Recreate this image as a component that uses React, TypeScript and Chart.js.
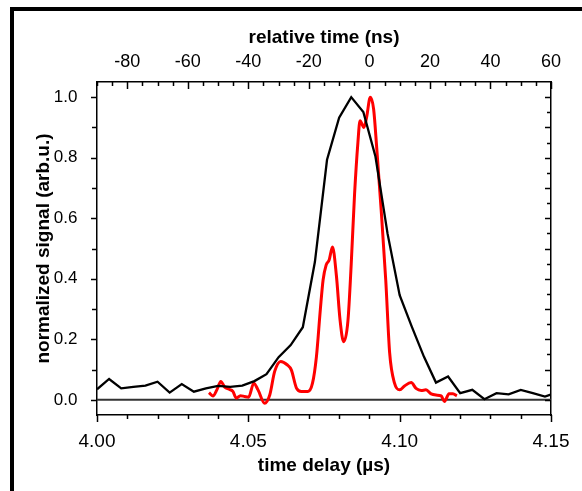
import React, { useEffect, useRef } from "react";
import { Chart, registerables } from "chart.js";

Chart.register(...registerables);

// ---- data ----
const blackTime = [
  4.0, 4.004, 4.008, 4.012, 4.016, 4.02, 4.024, 4.028, 4.032, 4.036,
  4.04, 4.044, 4.048, 4.052, 4.056, 4.06, 4.064, 4.068, 4.072, 4.076,
  4.08, 4.084, 4.088, 4.092, 4.096, 4.1, 4.104, 4.108, 4.112, 4.116,
  4.12, 4.124, 4.128, 4.132, 4.136, 4.14, 4.144, 4.148, 4.152,
];
const blackSignal = [
  0.035, 0.069, 0.038, 0.043, 0.047, 0.06, 0.024, 0.052, 0.027, 0.038,
  0.046, 0.043, 0.047, 0.062, 0.085, 0.141, 0.181, 0.24, 0.456, 0.793,
  0.932, 1.0, 0.951, 0.804, 0.549, 0.346, 0.242, 0.143, 0.057, 0.077,
  0.022, 0.033, 0.002, 0.022, 0.018, 0.033, 0.022, 0.011, 0.025,
];

const redTime = [
  4.037, 4.0383, 4.0396, 4.0409, 4.0422, 4.0436, 4.0449, 4.046, 4.0474, 4.0488,
  4.0501, 4.0518, 4.0532, 4.0554, 4.0571, 4.0587, 4.0607, 4.0628, 4.0642, 4.0659,
  4.0675, 4.0697, 4.0712, 4.0725, 4.0738, 4.0747, 4.0757, 4.0767, 4.0778, 4.0791,
  4.0803, 4.0815, 4.0829, 4.084, 4.0851, 4.0862, 4.0869, 4.0882, 4.0891, 4.0903,
  4.0914, 4.0924, 4.0939, 4.0954, 4.0967, 4.0983, 4.1, 4.1016, 4.1038, 4.1054,
  4.1071, 4.1087, 4.1104, 4.112, 4.1137, 4.1148, 4.1163, 4.1176, 4.1189,
];
const redSignal = [
  0.024, 0.013, 0.033, 0.061, 0.042, 0.035, 0.028, 0.006, 0.014, 0.011,
  0.009, 0.055, 0.033, -0.011, 0.017, 0.094, 0.127, 0.116, 0.099, 0.039,
  0.028, 0.028, 0.055, 0.143, 0.3, 0.396, 0.445, 0.462, 0.505, 0.41,
  0.264, 0.192, 0.26, 0.45, 0.68, 0.85, 0.922, 0.9, 0.935, 1.0,
  0.96, 0.835, 0.626, 0.396, 0.154, 0.055, 0.033, 0.046, 0.057, 0.038,
  0.031, 0.033, 0.02, 0.016, 0.013, -0.005, 0.02, 0.02, 0.013,
];

const bottomTickLabels = [4.0, 4.05, 4.1, 4.15];
const topTickLabels = [-80, -60, -40, -20, 0, 20, 40, 60];
const leftTickLabels = [0.0, 0.2, 0.4, 0.6, 0.8, 1.0];

const FONT = "'Liberation Sans', Arial, Helvetica, sans-serif";

const tickPlugin = {
  id: "customTicks",
  beforeDatasetsDraw(chart: any) {
    const { ctx, chartArea } = chart;
    const y0 = chart.scales.y.getPixelForValue(0);
    ctx.save();
    ctx.strokeStyle = "#333333";
    ctx.lineWidth = 2;
    ctx.beginPath();
    ctx.moveTo(chartArea.left, y0);
    ctx.lineTo(chartArea.right, y0);
    ctx.stroke();
    ctx.restore();
  },
  afterDraw(chart: any) {
    const { ctx, chartArea } = chart;
    const { left, right, top, bottom } = chartArea;
    const sx = chart.scales.x;
    const sx2 = chart.scales.x2;
    const sy = chart.scales.y;
    ctx.save();
    ctx.strokeStyle = "#000";
    ctx.lineWidth = 1.5;
    const seg = (a: number, b: number, c: number, d: number) => {
      ctx.beginPath();
      ctx.moveTo(a, b);
      ctx.lineTo(c, d);
      ctx.stroke();
    };
    // bottom: outward, every 0.01
    for (let i = 0; i <= 15; i++) {
      const px = Math.round(sx.getPixelForValue(4 + i * 0.01)) + 0.5;
      seg(px, bottom, px, bottom + (i % 5 === 0 ? 7 : 4));
    }
    // top: inward, every 5 ns
    for (let i = 0; i <= 30; i++) {
      const v = -90 + i * 5;
      const px = Math.round(sx2.getPixelForValue(v)) + 0.5;
      seg(px, top, px, top + (v % 20 === 0 ? 7 : 4));
    }
    // left: outward, every 0.1
    for (let i = 0; i <= 10; i++) {
      const py = Math.round(sy.getPixelForValue(i * 0.1)) + 0.5;
      seg(left - (i % 2 === 0 ? 6 : 5), py, left, py);
    }
    // right: inward, every 0.05
    for (let i = 0; i <= 20; i++) {
      const py = Math.round(sy.getPixelForValue(i * 0.05)) + 0.5;
      seg(right, py, right - (i % 2 === 0 ? 6 : 4), py);
    }
    ctx.restore();
  },
};

export default function App() {
  const ref = useRef<HTMLCanvasElement | null>(null);

  useEffect(() => {
    if (!ref.current) return;
    const chart = new Chart(ref.current, {
      type: "scatter",
      data: {
        datasets: [
          {
            label: "black",
            data: blackTime.map((t, i) => ({ x: t, y: blackSignal[i] })),
            showLine: true,
            borderColor: "#000000",
            borderWidth: 2.3,
            pointRadius: 0,
            tension: 0,
            xAxisID: "x",
            yAxisID: "y",
          },
          {
            label: "red",
            data: redTime.map((t, i) => ({ x: t, y: redSignal[i] })),
            showLine: true,
            borderColor: "#ff0000",
            borderWidth: 3,
            pointRadius: 0,
            cubicInterpolationMode: "monotone",
            xAxisID: "x",
            yAxisID: "y",
          },
        ],
      },
      options: {
        animation: false,
        responsive: false,
        layout: { padding: 0 },
        plugins: {
          legend: { display: false },
          tooltip: { enabled: false },
        },
        scales: {
          x: {
            type: "linear",
            position: "bottom",
            min: 4.0,
            max: 4.15,
            grid: { display: false },
            border: { display: true, color: "#000", width: 1.5 },
            ticks: {
              color: "#000",
              font: { size: 19, family: FONT },
              padding: 7,
              maxRotation: 0,
              callback: (v: any) => Number(v).toFixed(2),
            },
            afterBuildTicks: (s: any) => {
              s.ticks = bottomTickLabels.map((v) => ({ value: v }));
            },
            afterFit: (s: any) => {
              s.height = 76;
            },
            title: {
              display: true,
              text: "time delay (µs)",
              color: "#000",
              font: { size: 19, weight: "bold", family: FONT },
              padding: { top: 0, bottom: 13.5 },
            },
          },
          x2: {
            type: "linear",
            position: "top",
            min: -90,
            max: 60,
            grid: { display: false },
            border: { display: true, color: "#000", width: 1.5 },
            ticks: {
              color: "#000",
              font: { size: 18, family: FONT },
              padding: 1,
              maxRotation: 0,
              callback: (v: any) => String(v),
            },
            afterBuildTicks: (s: any) => {
              s.ticks = topTickLabels.map((v) => ({ value: v }));
            },
            afterFit: (s: any) => {
              s.height = 82;
            },
            title: {
              display: true,
              text: "relative time (ns)",
              color: "#000",
              font: { size: 19, weight: "bold", family: FONT },
              padding: { top: 26.5, bottom: 0 },
            },
          },
          y: {
            type: "linear",
            position: "left",
            min: -0.05,
            max: 1.05,
            grid: { display: false },
            border: { display: true, color: "#000", width: 1.5 },
            ticks: {
              color: "#000",
              font: { size: 17, family: FONT },
              padding: 11.5,
              callback: (v: any) => Number(v).toFixed(1),
            },
            afterBuildTicks: (s: any) => {
              s.ticks = leftTickLabels.map((v) => ({ value: v }));
            },
            afterFit: (s: any) => {
              s.width = 97;
            },
            title: {
              display: true,
              text: "normalized signal (arb.u.)",
              color: "#000",
              font: { size: 19, weight: "bold", family: FONT },
              padding: { top: 32.5, bottom: 0 },
            },
          },
          y2: {
            type: "linear",
            position: "right",
            min: -0.05,
            max: 1.05,
            grid: { display: false },
            border: { display: true, color: "#000", width: 1.5 },
            ticks: { display: false },
            afterFit: (s: any) => {
              s.width = 31;
            },
          },
        },
      } as any,
      plugins: [tickPlugin],
    });
    return () => chart.destroy();
  }, []);

  return (
    <div
      style={{
        position: "fixed",
        left: 0,
        top: 0,
        width: 582,
        height: 491,
        background: "#fff",
        overflow: "hidden",
      }}
    >
      <canvas
        ref={ref}
        width={582}
        height={491}
        style={{ position: "absolute", left: 0, top: 0, width: 582, height: 491 }}
      />
      <div
        style={{
          position: "absolute",
          left: 10,
          top: 7,
          width: 572,
          height: 484,
          borderTop: "4px solid #000",
          borderLeft: "4px solid #000",
          boxSizing: "border-box",
          pointerEvents: "none",
        }}
      />
    </div>
  );
}
